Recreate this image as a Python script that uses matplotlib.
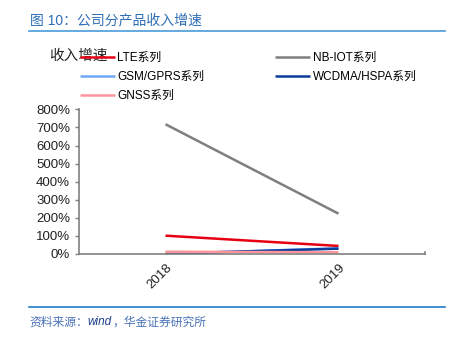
import matplotlib.pyplot as plt
from matplotlib.lines import Line2D

plt.rcParams['font.family'] = ['Liberation Sans', 'Noto Sans CJK SC', 'DejaVu Sans']

years = ['2018', '2019']
lte = [1.00, 0.43]
nb_iot = [7.18, 2.22]
gsm_gprs = [-0.01, 0.30]
wcdma_hspa = [0.00, 0.28]
gnss = [0.11, 0.08]

series = [
    ('LTE系列', lte, '#E60012'),
    ('NB-IOT系列', nb_iot, '#7F7F7F'),
    ('GSM/GPRS系列', gsm_gprs, '#6FA8F5'),
    ('WCDMA/HSPA系列', wcdma_hspa, '#0B3C9C'),
    ('GNSS系列', gnss, '#FF959C'),
]

fig = plt.figure(figsize=(4.58, 3.41), dpi=100)
ax = fig.add_axes([0.1725, 0.256, 0.7555, 0.423])

x = range(len(years))
handles = {}
for name, vals, color in series:
    ln, = ax.plot(x, vals, color=color, lw=1.8, solid_capstyle='butt', label=name)
    handles[name] = ln

ax.set_xlim(-0.5, len(years) - 0.5)
ax.set_ylim(0, 8)
ax.set_yticks(range(0, 9))
ax.set_yticklabels([f'{v * 100}%' for v in range(0, 9)], fontsize=9.5, color='#222222')
ax.set_xticks(list(x))
ax.set_xticklabels(years, rotation=45, ha='right', rotation_mode='anchor',
                   fontsize=9.5, color='#222222')
ax.tick_params(axis='x', length=0, pad=6)
ax.tick_params(axis='y', length=3, color='#808080', width=1)

for side in ['top', 'right']:
    ax.spines[side].set_visible(False)
for side in ['left', 'bottom']:
    ax.spines[side].set_color('#808080')
    ax.spines[side].set_linewidth(1.2)
# small upward tick at the right end of the category axis
ax.plot([1.0, 1.0], [0, 0.12], color='#808080', lw=1.2, transform=ax.get_yaxis_transform(),
        clip_on=False)

order = ['LTE系列', 'GSM/GPRS系列', 'GNSS系列', 'NB-IOT系列', 'WCDMA/HSPA系列']
fig.legend([handles[n] for n in order], order, ncol=2, frameon=False,
           loc='upper left', bbox_to_anchor=(0.165, 0.862), fontsize=8.5,
           handlelength=2.9, handletextpad=0.25, columnspacing=6.0,
           labelspacing=0.6, borderaxespad=0)

fig.text(0.107, 0.836, '收入增速', fontsize=10.5, color='#222222', va='center')

fig.text(0.065, 0.94, '图 10：公司分产品收入增速', fontsize=10, color='#2E6EB5', va='center')
fig.add_artist(Line2D([0.063, 0.972], [0.909, 0.909], color='#4A9BDB', lw=1.2))
fig.add_artist(Line2D([0.063, 0.972], [0.1, 0.1], color='#1F7DC9', lw=1.2))
fig.text(0.065, 0.055, '资料来源：', fontsize=8.5, color='#4A72B8', style='italic', va='center')
fig.text(0.19, 0.055, 'wind', fontsize=8.5, color='#1A3F8C', style='italic', va='center')
fig.text(0.245, 0.055, '，华金证券研究所', fontsize=8.5, color='#4A72B8', style='italic',
         va='center')

fig.savefig('out.png', dpi=100)
